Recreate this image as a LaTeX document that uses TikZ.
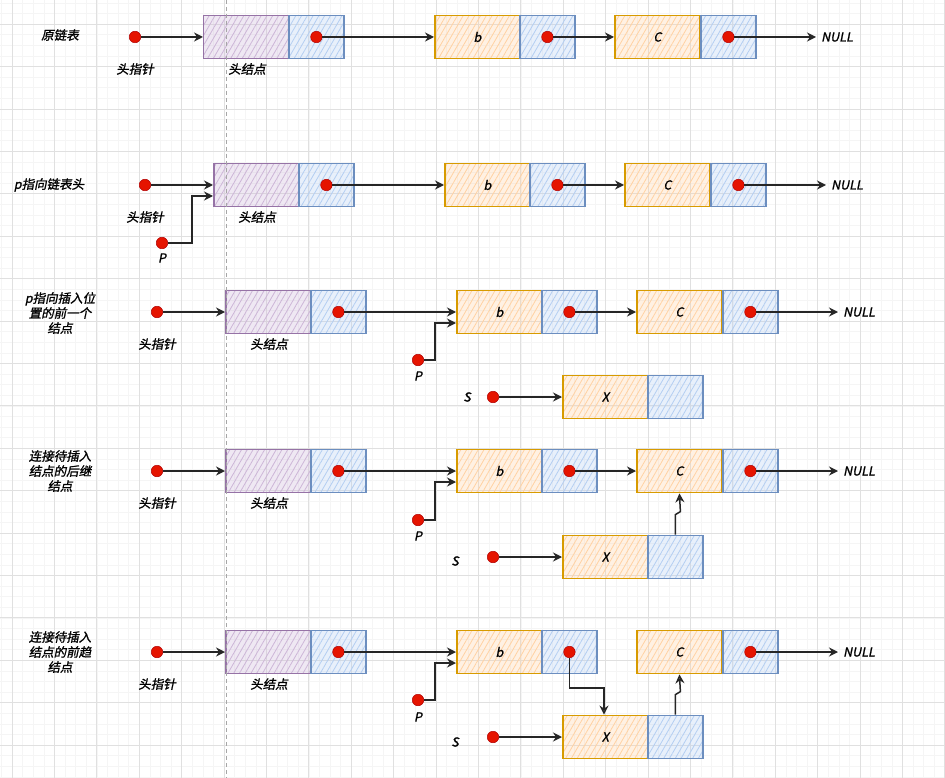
\documentclass[tikz,border=0pt]{standalone}
\usepackage{fontspec}
\setmainfont{Noto Sans CJK SC}[FakeSlant=0.2, FakeBold=1.2]
\usetikzlibrary{arrows.meta,patterns.meta,calc}
\definecolor{purpS}{HTML}{9673A6}
\definecolor{purpF}{HTML}{CDB6D8}
\definecolor{blueS}{HTML}{6C8EBF}
\definecolor{blueF}{HTML}{B4CEF2}
\definecolor{oranS}{HTML}{D79B00}
\definecolor{oranF}{HTML}{FFD2A3}
\definecolor{dotF}{HTML}{E51400}
\definecolor{dotS}{HTML}{B20000}
\definecolor{gridMaj}{HTML}{E0E0E0}
\definecolor{gridMin}{HTML}{F5F5F5}
\tikzset{
  box/.style={rectangle, inner sep=0pt, minimum height=43pt, line width=1.8pt, anchor=west,
    font=\fontsize{12.5}{15}\selectfont},
  headbox/.style={box, minimum width=85pt, draw=purpS,
    preaction={fill=purpF, fill opacity=0.3},
    pattern={Lines[angle=60,distance=5pt,line width=0.8pt]}, pattern color=purpF},
  databox/.style={box, minimum width=85pt, draw=oranS,
    preaction={fill=oranF, fill opacity=0.3},
    pattern={Lines[angle=60,distance=5pt,line width=0.8pt]}, pattern color=oranF},
  ptrbox/.style={box, minimum width=55pt, draw=blueS,
    preaction={fill=blueF, fill opacity=0.3},
    pattern={Lines[angle=60,distance=5pt,line width=0.8pt]}, pattern color=blueF},
  dot/.style={circle, inner sep=0pt, minimum size=11.5pt, fill=dotF, draw=dotS, line width=0.5pt},
  lbl/.style={inner sep=1pt, font=\fontsize{12.5}{15}\selectfont, align=center},
  arr/.style={draw=black!85, line width=1.5pt, -{Stealth[open,length=9pt,width=9pt,inset=3pt]}},
}
% #1 prefix, #2 head x, #3 centre y
\newcommand\mklist[3]{%
  \node[headbox] (#1-h) at (#2,#3) {};
  \node[ptrbox] (#1-hp) at (#2+85,#3) {};
  \node[databox] (#1-b) at (#2+231,#3) {b};
  \node[ptrbox] (#1-bp) at (#2+316,#3) {};
  \node[databox] (#1-c) at (#2+411,#3) {C};
  \node[ptrbox] (#1-cp) at (#2+497,#3) {};
  \node[dot] (#1-hd) at (#1-hp.center) {};
  \node[dot] (#1-bd) at (#1-bp.center) {};
  \node[dot] (#1-cd) at (#1-cp.center) {};
  \node[dot] (#1-hpt) at (#2-68,#3) {};
  \node[lbl] (#1-l1) at (#2-68,#3+32) {头指针};
  \node[lbl] (#1-l2) at (#2+44,#3+32) {头结点};
  \node[lbl, anchor=west, inner sep=5pt] (#1-null) at (#2+613,#3) {NULL};
  \draw[arr] (#1-hpt) -- (#1-h.west);
  \draw[arr] (#1-hd) -- (#1-b.west);
  \draw[arr] (#1-cd) -- (#1-null.west);
}
% #1 prefix, #2 centre y, #3 S label x, #4 S label dy
\newcommand\mkx[4]{%
  \node[databox] (#1-x) at (562,#2) {X};
  \node[ptrbox] (#1-xp) at (647,#2) {};
  \node[dot] (#1-s) at (493,#2) {};
  \node[lbl] (#1-sl) at (#3,#2+#4) {S};
  \draw[arr] (#1-s) -- (#1-x.west);
}
\begin{document}
\begin{tikzpicture}[x=1pt, y=-1pt]
\useasboundingbox (0,0) rectangle (945,778);
\fill[white] (0,0) rectangle (945,778);
% grid
\foreach \i in {0,...,89} {\draw[gridMin, line width=0.6pt] ({1.4+10.6*\i},0) -- ({1.4+10.6*\i},778);}
\foreach \i in {0,...,74} {\draw[gridMin, line width=0.6pt] (0,{3.0+10.6*\i}) -- (945,{3.0+10.6*\i});}
\foreach \i in {0,...,22} {\draw[gridMaj, line width=0.9pt] ({12+42.4*\i},0) -- ({12+42.4*\i},778);}
\foreach \i in {0,...,18} {\draw[gridMaj, line width=0.9pt] (0,{24.2+42.4*\i}) -- (945,{24.2+42.4*\i});}

% row 1
\node[lbl] (t1) at (60,35) {原链表};
\mklist{r1}{203}{37}
\draw[arr] (r1-bd) -- (r1-c.west);

% row 2
\node[lbl] (t2) at (49,185) {p指向链表头};
\mklist{r2}{213}{185}
\draw[arr] (r2-bd) -- (r2-c.west);
\node[dot] (r2-p) at (162,243) {};
\node[lbl] (r2-pl) at (162,258) {P};
\draw[arr] (r2-p) -| ($(r2-h.west)+(-21,11)$) -- ($(r2-h.west)+(0,11)$);

% row 3
\node[lbl] (t3) at (60,313) {p指向插入位\\置的前一个\\结点};
\mklist{r3}{225}{312}
\draw[arr] (r3-bd) -- (r3-c.west);
\node[dot] (r3-p) at (418,360) {};
\node[lbl] (r3-pl) at (418,376) {P};
\draw[arr] (r3-p) -| ($(r3-b.west)+(-21,11)$) -- ($(r3-b.west)+(0,11)$);
\mkx{r3}{397}{467}{0}

% row 4
\node[lbl] (t4) at (60,471) {连接待插入\\结点的后继\\结点};
\mklist{r4}{225}{471}
\draw[arr] (r4-bd) -- (r4-c.west);
\node[dot] (r4-p) at (418,520) {};
\node[lbl] (r4-pl) at (418,536) {P};
\draw[arr] (r4-p) -| ($(r4-b.west)+(-21,11)$) -- ($(r4-b.west)+(0,11)$);
\mkx{r4}{557}{455}{4}
\draw[arr] (r4-xp.north) -- ++(0,-20) -- ++(5,-3) -- (r4-c.south);

% row 5
\node[lbl] (t5) at (60,652) {连接待插入\\结点的前趋\\结点};
\mklist{r5}{225}{652}
\node[dot] (r5-p) at (418,700) {};
\node[lbl] (r5-pl) at (418,717) {P};
\draw[arr] (r5-p) -| ($(r5-b.west)+(-21,11)$) -- ($(r5-b.west)+(0,11)$);
\mkx{r5}{737}{455}{5}
\coordinate (r5-bend) at (604,688);
\draw[arr] (r5-bd) |- (r5-bend) -- (r5-bend |- r5-x.north);
\draw[arr] (r5-xp.north) -- ++(0,-20) -- ++(5,-3) -- (r5-c.south);

% dashed guide
\draw[black!35, dashed, line width=0.8pt, dash pattern=on 4pt off 3pt] (226,0) -- (226,778);
\end{tikzpicture}
\end{document}
